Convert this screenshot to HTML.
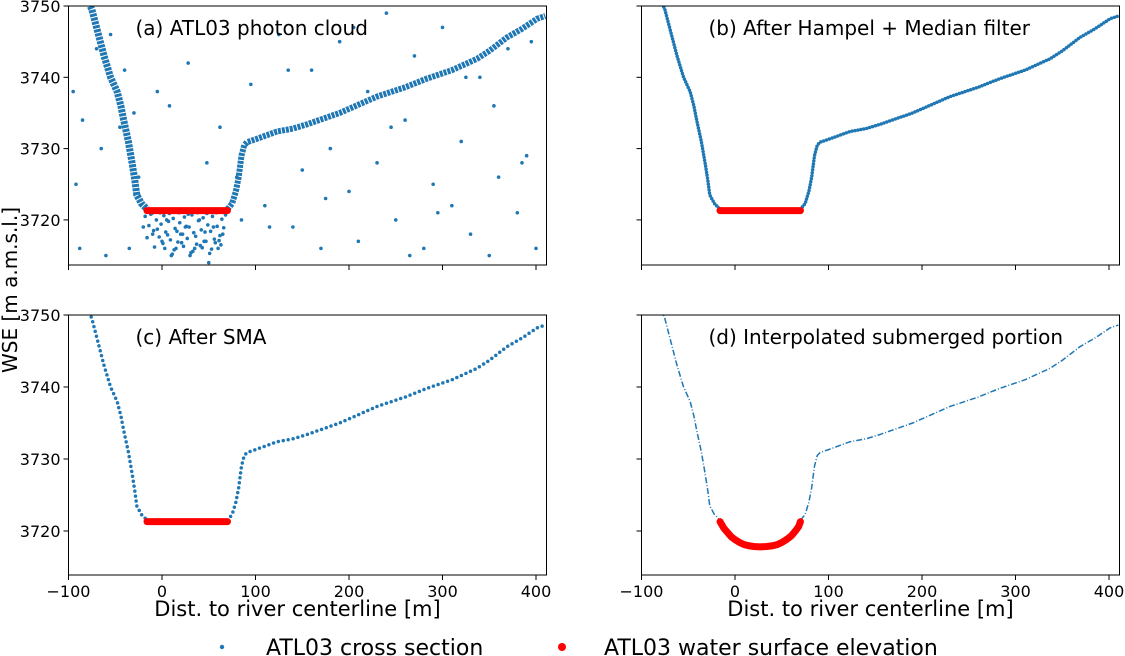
<!DOCTYPE html>
<html><head><meta charset="utf-8"><style>
body{margin:0;background:#fff;}
svg{display:block;font-family:"DejaVu Sans","Liberation Sans",sans-serif;}
</style></head><body>
<svg id="c" width="1125" height="656"></svg>
<script>
const profX=[-80,-75,-70,-62,-55,-48,-44,-41,-36,-32,-29,-27,-22,-16];
const profY=[3751,3749.5,3747,3743,3740,3738,3736,3734,3731,3728,3725.5,3723.5,3722.3,3721.5];
const profRX=[70,75,79,82,85,88,91,100,123,140,155,190,230,260,283,310,337,350,369,385,401,410];
const profRY=[3721.5,3722.3,3724,3726,3729,3730.5,3730.9,3731.3,3732.4,3732.8,3733.4,3735,3737.3,3738.6,3739.8,3741,3742.6,3743.7,3745.6,3746.8,3748.2,3748.6];
const wseX=[-16,70];
const wseY=[3721.3,3721.3];
const arcX=[-16,-12,-8,-4,0,5,10,15,20,27,34,40,45,50,55,60,64,68,70];
const arcY=[3721.3,3720.4,3719.8,3719.2,3718.8,3718.4,3718.1,3717.95,3717.85,3717.8,3717.85,3717.95,3718.1,3718.4,3718.8,3719.3,3719.9,3720.6,3721.3];
const noiseX=[-95,-92,-88,-70,-60,-55,-40,-35,-30,-20,-10,0,5,10,15,20,25,30,35,40,45,50,55,60,65,-5,8,28,48,62,80,95,110,125,140,150,160,170,180,190,200,210,220,230,240,250,260,270,280,290,300,310,320,330,340,350,360,370,380,390,400,-85,-65,115,135,175,205,245,265,295,325,355,385,395,-45,-25,85];
const noiseY=[3738,3725,3716,3744,3715,3746,3741,3716,3735,3719,3718,3717,3720,3715,3716,3718,3719,3715,3716,3720,3717,3714,3719,3716,3718,3738,3736,3742,3728,3733,3726,3739,3722,3746,3719,3727,3741,3716,3730,3745,3724,3717,3738,3728,3749,3720,3734,3743,3716,3725,3747,3722,3731,3718,3740,3715,3726,3744,3721,3729,3716,3734,3730,3719,3741,3723,3747,3733,3715,3721,3740,3736,3728,3745,3733,3726,3720];
const basinX=[-18,-14,-12,-9,-6,-3,-1,2,4,7,9,12,14,17,19,22,24,27,29,32,34,37,39,42,44,47,49,52,54,57,59,62,64,66,-16,-8,3,13,23,33,43,53,63,-11,-2,8,18,28,38,48,58,68,-5,6,16,26,36,46,56,1,21,41,61,11,31,51];
const basinY=[3720.5,3719.2,3720.8,3718.5,3720,3717.6,3719.4,3720.6,3718.3,3719.8,3717.2,3720.2,3718.8,3716.9,3719.6,3718,3720.4,3717.4,3719,3720.7,3718.2,3716.6,3719.9,3718.6,3720.3,3717,3719.3,3718.4,3720.5,3716.8,3719.1,3717.8,3720.1,3718.9,3717.5,3716.2,3716,3715.8,3716.3,3715.6,3716.1,3715.9,3716.5,3720.9,3721,3720.9,3721,3720.8,3721,3720.9,3721,3720.7,3718.7,3717.9,3718.4,3719.1,3717.7,3718.3,3717.3,3716.7,3716.8,3716.4,3717.1,3715.2,3715.4,3715.3];
const xTicks=[-100,0,100,200,300,400];
const yTicks=[3720,3730,3740,3750];
const NS="http://www.w3.org/2000/svg";
const svg=document.getElementById('c');
function el(t,a,p){const e=document.createElementNS(NS,t);for(const k in a)e.setAttribute(k,a[k]);(p||svg).appendChild(e);return e;}
const panels=[
 {id:'a',x0:68.5,y0:6,y1:265,title:'(a) ATL03 photon cloud',ylab:true,xlab:false},
 {id:'b',x0:641.5,y0:6,y1:265,title:'(b) After Hampel + Median filter',ylab:false,xlab:false},
 {id:'c',x0:68.5,y0:315,y1:575,title:'(c) After SMA',ylab:true,xlab:true},
 {id:'d',x0:641.5,y0:315,y1:575,title:'(d) Interpolated submerged portion',ylab:false,xlab:true}];
const W=478;
panels.forEach(p=>{
 const g=el('g',{});
 
 
 const sx=v=>p.x0+(v+100)*0.935;
 const top=p.id=='a'||p.id=='b';
 const ypp=top?7.13:7.2;
 const sy=v=>p.y0+(3750-v)*ypp;
 const cp='cp'+p.id;
 const cl=el('clipPath',{id:cp},g);el('rect',{x:p.x0,y:p.y0,width:W,height:p.y1-p.y0},cl);
 const d=el('g',{'clip-path':'url(#'+cp+')'},g);
 const pts=(xs,ys)=>xs.map((x,i)=>sx(x)+','+sy(ys[i])).join(' ');
 const left=pts(profX,profY), right=pts(profRX,profRY);
 if(p.id=='a'){
  noiseX.forEach((x,i)=>{const c=el('circle',{cx:sx(x),cy:sy(noiseY[i]),r:1.8,fill:'#1f77b4'},d);});
  basinX.forEach((x,i)=>{const c=el('circle',{cx:sx(x),cy:sy(basinY[i]),r:1.8,fill:'#1f77b4'},d);});
  [[left,7],[right,6]].forEach(([s,w])=>{const l=el('polyline',{points:s,fill:'none',stroke:'#1f77b4','stroke-width':w,'stroke-dasharray':'3 1'},d);});
 } else if(p.id=='d'){
  [left,right].forEach(s=>{const l=el('polyline',{points:s,fill:'none',stroke:'#1f77b4','stroke-width':1.5,'stroke-dasharray':'6 2 1 2'},d);});
 } else {
  [left,right].forEach(s=>{const l=el('polyline',{points:s,fill:'none',stroke:'#1f77b4','stroke-width':3.5,'stroke-linecap':'round','stroke-dasharray':p.id=='c'?'0 5':'0 3'},d);});
 }
 const r=p.id=='d'?el('polyline',{points:pts(arcX,arcY),fill:'none',stroke:'#ff0000','stroke-width':7,'stroke-linecap':'round'},d)
   :el('polyline',{points:pts(wseX,wseY),fill:'none',stroke:'#ff0000','stroke-width':7,'stroke-linecap':'round'},d);
 
 const f=el('rect',{x:p.x0,y:p.y0,width:W,height:p.y1-p.y0,fill:'none',stroke:'#000','stroke-width':1},g);
 
 xTicks.forEach(v=>{el('line',{x1:sx(v),x2:sx(v),y1:p.y1,y2:p.y1+5,stroke:'#000'},g);
  if(p.xlab){const t=el('text',{x:sx(v),y:p.y1+22,'font-size':16,'text-anchor':'middle'},g);t.textContent=v<0?'\u2212'+(-v):v;}});
 yTicks.forEach(v=>{el('line',{x1:p.x0-5,x2:p.x0,y1:sy(v),y2:sy(v),stroke:'#000'},g);
  if(p.ylab){const t=el('text',{x:p.x0-8,y:sy(v)+6,'font-size':16,'text-anchor':'end'},g);t.textContent=v;}});
 const tt=el('text',{x:p.x0+67,y:p.y0+29,'font-size':20},g);tt.textContent=p.title;
 
 if(p.xlab){const t=el('text',{x:p.x0+W/2-10,y:616,'font-size':21,'text-anchor':'middle'},g);t.textContent='Dist. to river centerline [m]';}
});
const yl=el('text',{x:0,y:0,'font-size':20,'text-anchor':'middle',transform:'translate(17,290) rotate(-90)'});
yl.textContent='WSE [m a.m.s.l.]';


const lg=el('g',{});


const c1=el('circle',{cx:222,cy:647,r:2.2,fill:'#1f77b4'},lg);

const t1=el('text',{x:266,y:655,'font-size':22},lg);t1.textContent='ATL03 cross section';

const c2=el('circle',{cx:562,cy:647,r:4,fill:'#ff0000'},lg);

const t2=el('text',{x:604,y:655,'font-size':22},lg);t2.textContent='ATL03 water surface elevation';

</script>
</body></html>
